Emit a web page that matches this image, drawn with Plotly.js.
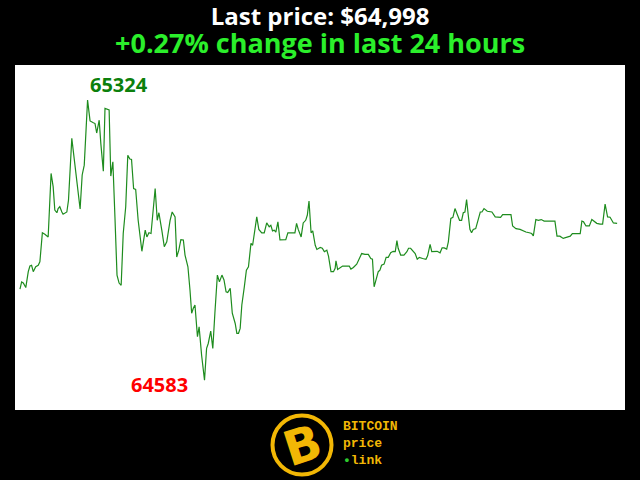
<!DOCTYPE html>
<html>
<head>
<meta charset="utf-8">
<script src="https://cdn.plot.ly/plotly-3.0.1.min.js"></script>
<style>
  html, body { margin: 0; padding: 0; background: #000; }
  #chart { width: 640px; height: 480px; }
</style>
</head>
<body>
<div id="chart"></div>
<script>
// minutes since start of the 24h window
const minutes = [
  0, 4, 8, 14, 20, 24, 28, 32, 38, 44,
  48, 54, 60, 68, 75, 80, 84, 89, 92, 96,
  101, 104, 113, 117, 125, 133, 139, 145, 150, 155,
  163, 169, 177, 181, 185, 191, 195, 201, 205, 210,
  215, 219, 224, 229, 234, 239, 244, 249, 255, 260,
  265, 269, 274, 279, 285, 294, 302, 306, 311, 316,
  326, 331, 335, 342, 348, 354, 362, 367, 374, 378,
  383, 388, 394, 398, 405, 410, 414, 418, 422, 428,
  432, 438, 445, 450, 454, 460, 465, 470, 476, 481,
  487, 492, 497, 501, 507, 512, 519, 523, 527, 531,
  535, 541, 546, 551, 557, 561, 565, 571, 576, 583,
  589, 595, 601, 605, 609, 613, 617, 622, 627, 633,
  641, 646, 655, 663, 667, 671, 678, 683, 689, 693,
  697, 702, 706, 712, 716, 724, 729, 734, 740, 744,
  750, 756, 760, 762, 766, 772, 778, 788, 794, 798,
  804, 812, 818, 824, 832, 840, 846, 850, 854, 860,
  864, 868, 872, 878, 883, 888, 894, 900, 905, 909,
  912, 918, 926, 933, 937, 942, 949, 953, 958, 963,
  971, 979, 983, 989, 993, 1001, 1006, 1013, 1018, 1023,
  1029, 1033, 1039, 1044, 1049, 1055, 1060, 1065, 1069, 1073,
  1077, 1081, 1085, 1089, 1093, 1099, 1104, 1110, 1114, 1119,
  1127, 1138, 1146, 1151, 1159, 1164, 1174, 1184, 1188, 1196,
  1206, 1214, 1220, 1228, 1234, 1238, 1244, 1250, 1257, 1264,
  1272, 1282, 1290, 1295, 1302, 1310, 1319, 1327, 1332, 1343,
  1351, 1355, 1359, 1365, 1373, 1379, 1385, 1391, 1399, 1405,
  1411, 1417, 1423, 1427, 1431, 1440
];

// BTC price in USD
const prices = [
  64824, 64843, 64840, 64828, 64870, 64885, 64887, 64870, 64883, 64887,
  64896, 64973, 64969, 64962, 65130, 65095, 65033, 65026, 65037, 65042,
  65028, 65022, 65028, 65059, 65223, 65147, 65095, 65036, 65126, 65152,
  65324, 65269, 65264, 65262, 65237, 65271, 65209, 65136, 65302, 65299,
  65298, 65123, 65161, 65015, 64861, 64840, 64834, 64971, 65042, 65178,
  65168, 65167, 65090, 65088, 65006, 64924, 64980, 64962, 64973, 64971,
  65090, 65006, 65026, 64980, 64936, 64949, 65006, 65028, 65015, 64909,
  64927, 64955, 64954, 64914, 64883, 64821, 64760, 64773, 64782, 64698,
  64724, 64649, 64583, 64667, 64680, 64713, 64667, 64760, 64861, 64843,
  64861, 64848, 64817, 64815, 64826, 64760, 64733, 64707, 64707, 64720,
  64782, 64830, 64874, 64883, 64945, 64940, 64971, 65015, 64982, 64973,
  64973, 64999, 64989, 64993, 64978, 64980, 64975, 65002, 64954, 64955,
  64955, 64973, 64973, 64973, 64998, 64982, 64962, 64999, 65006, 65020,
  65057, 64973, 64978, 64940, 64929, 64934, 64932, 64923, 64927, 64911,
  64870, 64870, 64879, 64899, 64876, 64881, 64885, 64885, 64885, 64877,
  64881, 64890, 64902, 64918, 64916, 64916, 64905, 64903, 64830, 64856,
  64870, 64874, 64887, 64890, 64908, 64908, 64920, 64924, 64923, 64952,
  64932, 64914, 64914, 64923, 64932, 64932, 64921, 64918, 64903, 64908,
  64905, 64903, 64912, 64942, 64923, 64923, 64924, 64920, 64933, 64933,
  64930, 64949, 65011, 65014, 65037, 65020, 65006, 65006, 65026, 65028,
  65061, 65020, 64982, 64973, 64982, 64984, 65002, 65028, 65028, 65037,
  65030, 65028, 65015, 65014, 65014, 65021, 65021, 65021, 64991, 64984,
  64982, 64977, 64975, 64973, 64971, 64965, 65008, 65006, 65008, 65004,
  65004, 65004, 65004, 64964, 64964, 64958, 64962, 64964, 64971, 64971,
  64971, 65004, 65002, 64991, 64991, 65008, 65002, 64998, 64996, 64996,
  65049, 65015, 65014, 65008, 64999, 64998
];

const logoLines = ["BITCOIN", "price", "link"];

const last = prices[prices.length - 1];
const change = (last - prices[0]) / prices[0] * 100;
const hi = Math.max(...prices);
const lo = Math.min(...prices);
const hiAt = minutes[prices.indexOf(hi)];
const loAt = minutes[prices.indexOf(lo)];

const gold = "#f2b705";
const font = "Open Sans, Noto Sans, sans-serif";

const headline =
  "<span style='font-size:24px'>Last price: $" + last.toLocaleString("en-US") + "</span>" +
  "<br><span style='font-size:27px;color:#2bef2b'>" +
  (change >= 0 ? "+" : "") + change.toFixed(2) + "% change in last 24 hours</span>";

Plotly.newPlot(
  "chart",
  [
    {
      x: minutes,
      y: prices,
      type: "scatter",
      mode: "lines",
      line: { color: "#1e8c1e", width: 1.2 },
      hoverinfo: "skip",
    },
  ],
  {
    width: 640,
    height: 480,
    margin: { l: 15, r: 15, t: 65, b: 70 },
    paper_bgcolor: "#000000",
    plot_bgcolor: "#ffffff",
    showlegend: false,
    xaxis: {
      range: [-12, 1459],
      showgrid: false,
      zeroline: false,
      showline: false,
      ticks: "",
      showticklabels: false,
    },
    yaxis: {
      range: [64504, 65417],
      showgrid: false,
      zeroline: false,
      showline: false,
      ticks: "",
      showticklabels: false,
    },
    shapes: [
      {
        type: "circle",
        xref: "paper", yref: "paper",
        xsizemode: "pixel", ysizemode: "pixel",
        xanchor: 0.4705, yanchor: -0.1014,
        x0: -29.5, x1: 29.5, y0: -29.5, y1: 29.5,
        line: { color: gold, width: 4 },
        fillcolor: "#000000",
      },
    ],
    annotations: [
      {
        text: headline,
        xref: "paper", yref: "paper", x: 0.5, y: 1.1,
        xanchor: "center", yanchor: "middle", showarrow: false,
        font: { family: font, size: 21.5, color: "#ffffff", weight: 700 },
      },
      {
        text: String(hi),
        x: hiAt, y: hi, xanchor: "left", yanchor: "middle",
        yshift: 16, showarrow: false,
        font: { family: font, size: 20, color: "#0c800c", weight: 700 },
      },
      {
        text: String(lo),
        x: loAt, y: lo, xanchor: "right", yanchor: "middle",
        xshift: -15, yshift: -4, showarrow: false,
        font: { family: font, size: 20, color: "#ff0000", weight: 700 },
      },
      {
        text: "B",
        xref: "paper", yref: "paper", x: 0.4705, y: -0.1014,
        xanchor: "center", yanchor: "middle", showarrow: false,
        textangle: -18,
        font: { family: "DejaVu Sans", size: 48, color: gold, weight: 700 },
      },
      {
        text: logoLines[0] + "<br>" + logoLines[1] +
          "<br><span style='color:#2ecc2e'>•</span>" + logoLines[2],
        xref: "paper", yref: "paper", x: 0.535, y: -0.097,
        xanchor: "left", yanchor: "middle", align: "left", showarrow: false,
        font: { family: "Liberation Mono", size: 13, color: gold, weight: 700 },
      },
    ],
  },
  { displayModeBar: false, staticPlot: true }
);
</script>
</body>
</html>
